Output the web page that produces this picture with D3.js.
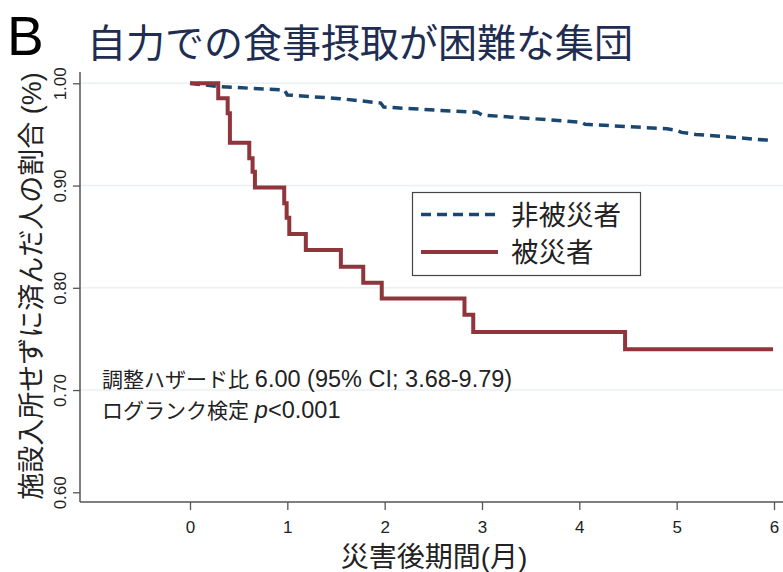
<!DOCTYPE html>
<html>
<head>
<meta charset="utf-8">
<script src="https://cdn.jsdelivr.net/npm/d3@7"></script>
<style>
  body { margin: 0; background: #fff; }
  text { font-family: "Liberation Sans", Arial, "Noto Sans CJK JP", sans-serif; }
</style>
</head>
<body>
<div id="chart"></div>
<script>
// data
var seriesNames = ['非被災者', '被災者'];
var xTicks = [0, 1, 2, 3, 4, 5, 6];
var yTicks = [0.60, 0.70, 0.80, 0.90, 1.00];

// non-victims (dashed blue): month, survival
var ctrlTime = [0, 0.31, 0.97, 1.00, 1.54, 1.96, 1.99, 2.57, 2.95, 3.00, 3.87, 4.02, 4.06, 4.90, 5.00, 5.05, 5.20, 5.92, 5.99];
var ctrlSurv = [1.000, 0.9967, 0.9934, 0.9886, 0.9850, 0.9807, 0.9768, 0.9735, 0.9718, 0.9690, 0.9630, 0.9618, 0.9599, 0.9555, 0.9540, 0.9520, 0.9500, 0.9445, 0.9435];

// victims (solid red): step curve
var caseTime = [0, 0.29, 0.387, 0.41, 0.609, 0.643, 0.667, 0.968, 0.993, 1.02, 1.19, 1.55, 1.78, 1.97, 2.82, 2.91, 4.47, 5.99];
var caseSurv = [1.000, 0.9853, 0.9706, 0.9419, 0.9266, 0.9135, 0.8982, 0.8826, 0.8685, 0.8525, 0.8369, 0.8205, 0.8049, 0.7896, 0.7736, 0.7567, 0.740, 0.740];

var W = 783, H = 572;
var navy = '#1a476f', maroon = '#90353b';

var svg = d3.select('#chart').append('svg')
  .attr('width', W).attr('height', H);

// scales
var x = d3.scaleLinear().domain([0, 6]).range([190, 774]);
var y = d3.scaleLinear().domain([0.6, 1.0]).range([492.3, 83.3]);
var axisX = 80, axisY = 502;

// grid lines
svg.append('g').selectAll('line')
  .data(yTicks.filter(function(d) { return d > 0.6; }))
  .enter().append('line')
  .attr('x1', axisX).attr('x2', W)
  .attr('y1', function(d) { return y(d); })
  .attr('y2', function(d) { return y(d); })
  .attr('stroke', '#eaf0f2').attr('stroke-width', 1.5);

// y axis
var yAxis = svg.append('g')
  .attr('transform', 'translate(' + axisX + ',0)')
  .call(d3.axisLeft(y).tickValues(yTicks).tickSize(7).tickFormat(d3.format('.2f')));
yAxis.select('.domain').remove();
yAxis.selectAll('line').attr('stroke', '#555').attr('stroke-width', 1.3);
yAxis.selectAll('text')
  .attr('transform', 'rotate(-90)')
  .attr('x', 0).attr('y', -14).attr('dy', 0)
  .style('text-anchor', 'middle')
  .style('font-size', '17px')
  .attr('fill', '#222');

// x axis
var xAxis = svg.append('g')
  .attr('transform', 'translate(0,' + axisY + ')')
  .call(d3.axisBottom(x).tickValues(xTicks).tickSize(8).tickFormat(d3.format('d')));
xAxis.select('.domain').remove();
xAxis.selectAll('line').attr('stroke', '#555').attr('stroke-width', 1.3);
xAxis.selectAll('text')
  .attr('y', 31).attr('dy', 0)
  .style('font-size', '17px')
  .attr('fill', '#222');

// axis lines
svg.append('line')
  .attr('x1', axisX).attr('x2', axisX).attr('y1', 72).attr('y2', axisY)
  .attr('stroke', '#555').attr('stroke-width', 1.5);
svg.append('line')
  .attr('x1', axisX).attr('x2', W).attr('y1', axisY).attr('y2', axisY)
  .attr('stroke', '#555').attr('stroke-width', 1.5);

// curves
var stepLine = d3.line()
  .x(function(d) { return x(d[0]); })
  .y(function(d) { return y(d[1]); })
  .curve(d3.curveStepAfter);
var smoothLine = d3.line()
  .x(function(d) { return x(d[0]); })
  .y(function(d) { return y(d[1]); });

svg.append('path')
  .datum(d3.zip(ctrlTime, ctrlSurv))
  .attr('d', smoothLine)
  .attr('fill', 'none')
  .attr('stroke', navy)
  .attr('stroke-width', 3.5)
  .attr('stroke-dasharray', '10,6');

svg.append('path')
  .datum(d3.zip(caseTime, caseSurv))
  .attr('d', stepLine)
  .attr('fill', 'none')
  .attr('stroke', maroon)
  .attr('stroke-width', 4)
  .attr('stroke-linejoin', 'miter');

// legend
var lg = svg.append('g');
lg.append('rect')
  .attr('x', 412.5).attr('y', 192.5).attr('width', 228).attr('height', 83)
  .attr('fill', '#fff').attr('stroke', '#444').attr('stroke-width', 1.2);
var legendColors = [navy, maroon];
var legendDash = ['10,6', null];
seriesNames.forEach(function(name, i) {
  var ly = 214.5 + i * 37.5;
  lg.append('line')
    .attr('x1', 421).attr('x2', 498).attr('y1', ly).attr('y2', ly)
    .attr('stroke', legendColors[i])
    .attr('stroke-width', i === 0 ? 3.5 : 4)
    .attr('stroke-dasharray', legendDash[i]);
  lg.append('text')
    .attr('x', 511).attr('y', ly + 10)
    .style('font-size', '27.5px')
    .attr('fill', '#222')
    .text(name);
});

// annotation
var t1 = svg.append('text')
  .attr('x', 102).attr('y', 387)
  .style('font-size', '21px').attr('fill', '#222');
t1.append('tspan').text('調整ハザード比 ');
t1.append('tspan').style('font-size', '23.5px').text('6.00 (95% CI; 3.68-9.79)');
var t2 = svg.append('text')
  .attr('x', 102).attr('y', 418)
  .style('font-size', '21px').attr('fill', '#222');
t2.append('tspan').text('ログランク検定 ');
t2.append('tspan').style('font-size', '23.5px').style('font-style', 'italic').text('p');
t2.append('tspan').style('font-size', '23.5px').text('<0.001');

// axis titles
svg.append('text')
  .attr('transform', 'translate(41,' + 286 + ') rotate(-90)')
  .style('text-anchor', 'middle')
  .style('font-size', '27px').attr('fill', '#222')
  .text('施設入所せずに済んだ人の割合 (%)');

svg.append('text')
  .attr('x', 434).attr('y', 567)
  .style('text-anchor', 'middle')
  .style('font-size', '28px').attr('fill', '#222')
  .text('災害後期間(月)');

// title
svg.append('text')
  .attr('x', 7).attr('y', 55)
  .style('font-size', '55px').attr('fill', '#000')
  .text('B');
svg.append('text')
  .attr('x', 87).attr('y', 57)
  .style('font-size', '39px').attr('fill', '#1e2d50')
  .text('自力での食事摂取が困難な集団');
</script>
</body>
</html>
